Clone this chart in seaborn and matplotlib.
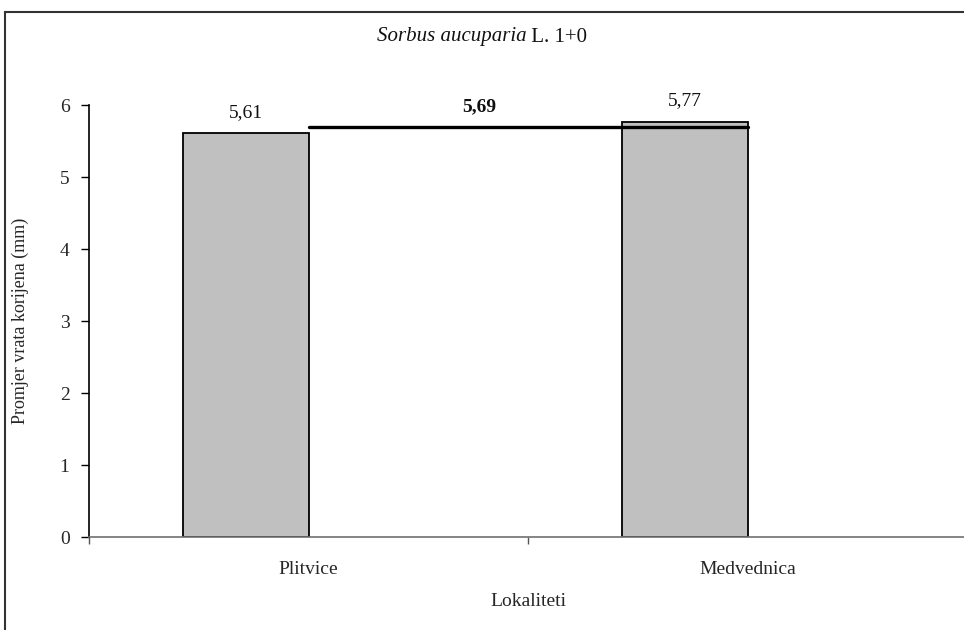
import matplotlib
matplotlib.use("Agg")
import matplotlib.pyplot as plt
import seaborn as sns
import pandas as pd
from matplotlib.patches import Rectangle

categories = ["Plitvice", "Medvednica"]
values = [5.61, 5.77]
mean_value = 5.69
value_labels = ["5,61", "5,77"]
mean_label = "5,69"
yticks = [0, 1, 2, 3, 4, 5, 6]

sns.set_theme(style="white")
plt.rcParams['font.family'] = ['Liberation Serif', 'DejaVu Serif']

FS = 14

fig = plt.figure(figsize=(9.64, 6.30), dpi=100)
ax = fig.add_axes([89/964, 1-537/630, (967-89)/964, 432/630])

df = pd.DataFrame({
    "Lokalitet": categories * 2,
    "value": values + [mean_value] * len(categories),
    "series": ["bar"] * len(categories) + ["hidden"] * len(categories),
})
sns.barplot(data=df, x="Lokalitet", y="value", hue="series",
            hue_order=["bar", "hidden"], order=categories,
            palette={"bar": "#C0C0C0", "hidden": "#FFFFFF"},
            width=0.574, dodge=True, edgecolor="black", linewidth=1.3,
            saturation=1, legend=False, ax=ax, errorbar=None)
for p in ax.containers[1]:
    p.set_visible(False)

# mean line
sns.lineplot(x=[0, 1], y=[mean_value, mean_value], color="black",
             linewidth=2.4, ax=ax)

# value labels
for rect, lab in zip(ax.containers[0], value_labels):
    ax.text(rect.get_x() + rect.get_width()/2, rect.get_height() + 0.29, lab,
            ha="center", va="center", fontsize=FS, color="#111")
ax.text(0.39, 5.97, mean_label, ha="center", va="center", fontsize=FS,
        fontweight="bold", color="#111")

ax.set_xlim(-0.5, 1.5)
ax.set_ylim(0, 6)
ax.set_yticks(yticks)
ax.set_yticklabels([str(t) for t in yticks])
ax.set_xticks([0, 1])
ax.set_xticklabels(categories)
ax.set_xticks([-0.5, 0.5, 1.5], minor=True)

ax.tick_params(axis="y", which="major", direction="out", length=6, width=1,
               color="black", pad=8, labelsize=FS, left=True)
ax.tick_params(axis="x", which="major", length=0, pad=17, labelsize=FS)
ax.tick_params(axis="x", which="minor", direction="out", length=5, width=1,
               color="#555", bottom=True)

for s in ["top", "right"]:
    ax.spines[s].set_visible(False)
ax.spines["left"].set_color("black")
ax.spines["left"].set_linewidth(1.2)
ax.spines["bottom"].set_color("#707070")
ax.spines["bottom"].set_linewidth(1.2)

ax.set_xlabel("Lokaliteti", fontsize=FS, labelpad=11)
ax.set_ylabel("Promjer vrata korijena (mm)", fontsize=13, labelpad=22)

# title: italic species name + regular remainder
TFS = 15
t1 = fig.text(0.5, 1 - 37/630, "Sorbus aucuparia", fontsize=TFS, style="italic",
              ha="right", va="center", color="#111")
t2 = fig.text(0.5, 1 - 37/630, " L. 1+0", fontsize=TFS, ha="left", va="center",
              color="#111")
fig.canvas.draw()
r = fig.canvas.get_renderer()
w1 = t1.get_window_extent(r).width
w2 = t2.get_window_extent(r).width
shift = (w1 - w2) / 2 / fig.bbox.width
for t in (t1, t2):
    x, y = t.get_position()
    t.set_position((x + shift, y))

fig.patches.append(Rectangle((4.5/964, -0.1), 1.2, 1 - 11.5/630 + 0.1,
                             transform=fig.transFigure, fill=False,
                             edgecolor="#333", linewidth=1.5))

fig.savefig("out.png", dpi=100, facecolor="white")
